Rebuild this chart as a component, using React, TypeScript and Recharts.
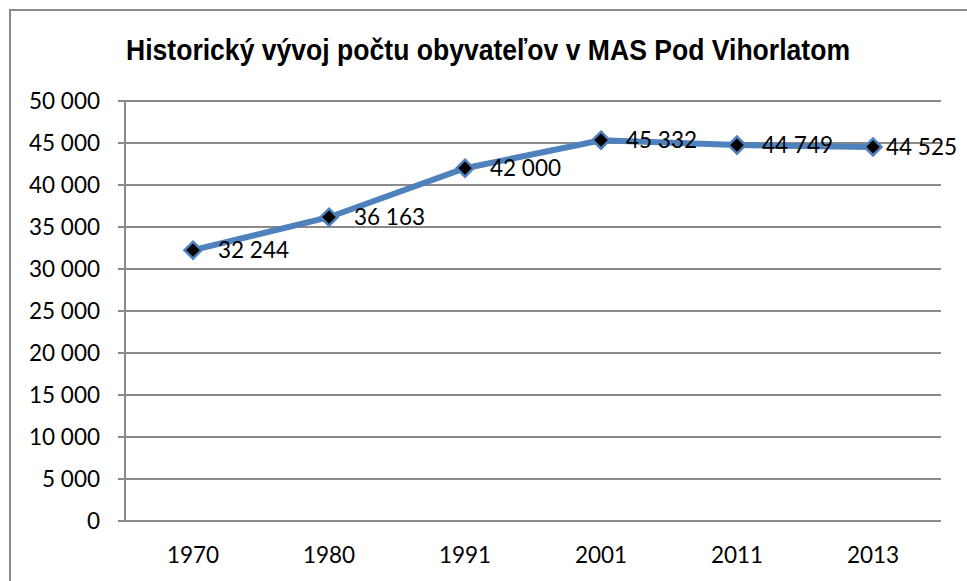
import React from 'react';
import { LineChart, Line, XAxis, YAxis, CartesianGrid, LabelList } from 'recharts';

const years = ['1970', '1980', '1991', '2001', '2011', '2013'];
const population = [32244, 36163, 42000, 45332, 44749, 44525];
const yTicks = [0, 5000, 10000, 15000, 20000, 25000, 30000, 35000, 40000, 45000, 50000];
const boundaryTicks = [0, 1, 2, 3, 4, 5, 6];
const title = 'Historický vývoj počtu obyvateľov v MAS Pod Vihorlatom';

const data = years.map((year, i) => ({ year, pos: i + 0.5, value: population[i] }));

const fmt = (v: number) => {
  const s = String(Math.round(v));
  return s.replace(/\B(?=(\d{3})+(?!\d))/g, ' ');
};

const FONT = 'Lato, "Liberation Sans", sans-serif';
const GRAY = '#8a8a8a';

const Diamond = (props: any) => {
  const { cx, cy } = props;
  if (cx == null || cy == null) return null;
  const r = 8.5;
  return (
    <path
      d={`M${cx},${cy - r} L${cx + r},${cy} L${cx},${cy + r} L${cx - r},${cy} Z`}
      fill="#000"
      stroke="#4F81BD"
      strokeWidth={2.5}
    />
  );
};

const ValueLabel = (props: any) => {
  const { x, y, value, index } = props;
  if (x == null || y == null) return null;
  const off = index === population.length - 1 ? 13 : 25;
  return (
    <text
      x={x + off}
      y={y}
      dy="0.355em"
      textAnchor="start"
      fill="#000"
      fontSize={22.5}
      fontFamily={FONT}
    >
      {fmt(Number(value))}
    </text>
  );
};

export default function App() {
  return (
    <div style={{ position: 'absolute', left: 0, top: 0, width: 967, height: 581, background: '#fff', overflow: 'hidden' }}>
      <div
        style={{
          position: 'absolute',
          left: 9,
          top: 9,
          width: 1000,
          height: 600,
          borderTop: `2px solid ${GRAY}`,
          borderLeft: `2px solid ${GRAY}`,
        }}
      />
      <svg style={{ position: 'absolute', left: 0, top: 0 }} width={967} height={90}>
        <text
          x={488}
          y={60}
          textAnchor="middle"
          textLength={724}
          lengthAdjust="spacingAndGlyphs"
          fontFamily='"Liberation Sans Narrow", "Liberation Sans", Arial, sans-serif'
          fontWeight="bold"
          fontSize={30}
          fill="#000"
        >
          {title}
        </text>
      </svg>
      <div style={{ position: 'absolute', left: 0, top: 0 }}>
        <LineChart
          width={967}
          height={581}
          data={data}
          margin={{ top: 101, right: 26, bottom: 0, left: 0 }}
        >
          <CartesianGrid horizontal vertical={false} stroke={GRAY} strokeWidth={2} />
          <XAxis
            xAxisId="main"
            dataKey="pos"
            type="number"
            domain={[0, 6]}
            ticks={boundaryTicks}
            tick={false}
            tickLine={{ stroke: GRAY, strokeWidth: 2 }}
            axisLine={{ stroke: GRAY, strokeWidth: 2 }}
            tickSize={7}
            height={0}
            allowDataOverflow
          />
          <XAxis
            xAxisId="labels"
            dataKey="year"
            type="category"
            scale="band"
            tickLine={false}
            axisLine={false}
            tickSize={0}
            tickMargin={26}
            height={60}
            interval={0}
            tick={{ fill: '#000', fontSize: 22.5, fontFamily: FONT }}
          />
          <YAxis
            type="number"
            domain={[0, 50000]}
            ticks={yTicks}
            interval={0}
            width={125}
            tickFormatter={fmt}
            tickSize={7}
            tickMargin={18}
            tickLine={{ stroke: GRAY, strokeWidth: 2 }}
            axisLine={{ stroke: GRAY, strokeWidth: 2 }}
            tick={{ fill: '#000', fontSize: 22.5, fontFamily: FONT }}
          />
          <Line
            xAxisId="main"
            type="linear"
            dataKey="value"
            stroke="#4F81BD"
            strokeWidth={6}
            dot={<Diamond />}
            activeDot={false}
            isAnimationActive={false}
          >
            <LabelList dataKey="value" content={<ValueLabel />} />
          </Line>
        </LineChart>
      </div>
    </div>
  );
}
